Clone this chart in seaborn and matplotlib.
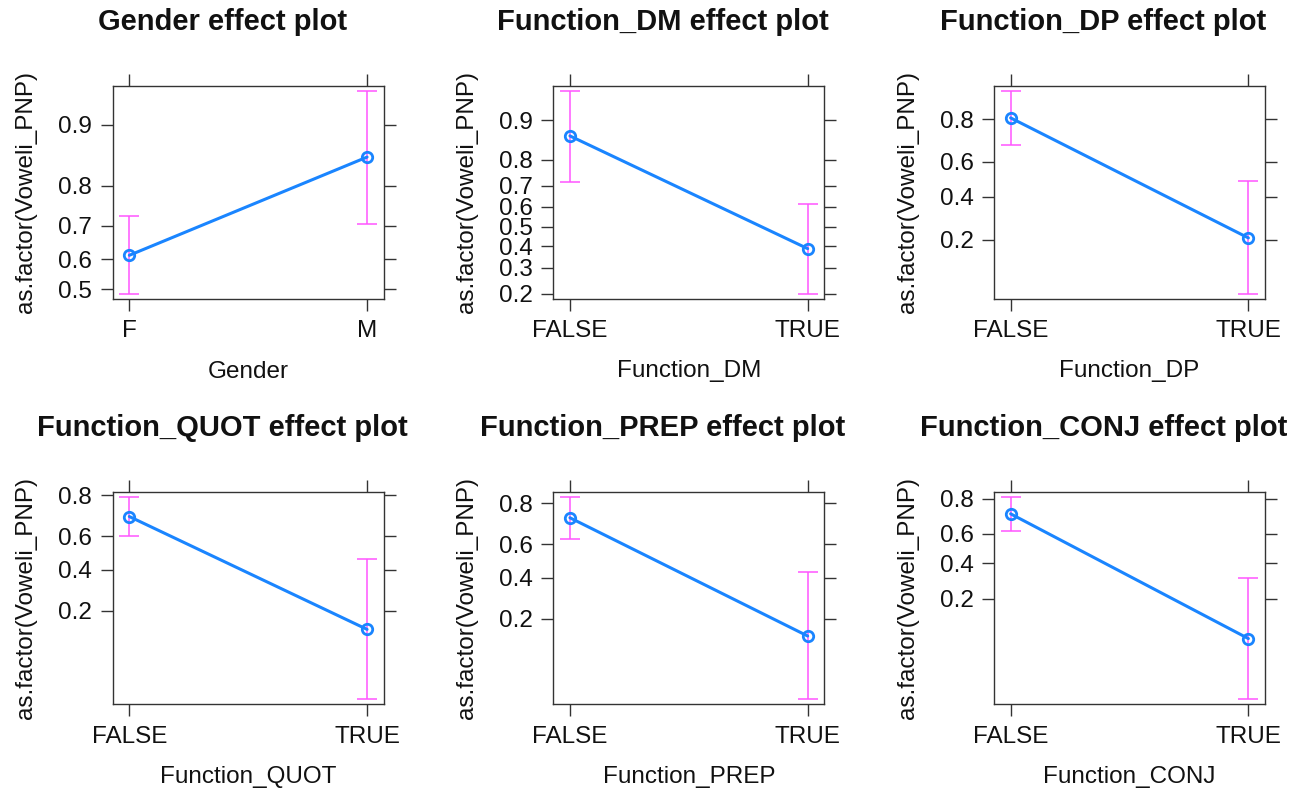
import numpy as np
import pandas as pd
import matplotlib
matplotlib.use("Agg")
import matplotlib.pyplot as plt
from matplotlib.ticker import FixedLocator, NullLocator
import seaborn as sns

sns.set_style("ticks")
plt.rcParams["font.family"] = ["Liberation Sans", "DejaVu Sans"]

# ---- data ----
titles = ["Gender effect plot", "Function_DM effect plot", "Function_DP effect plot",
          "Function_QUOT effect plot", "Function_PREP effect plot", "Function_CONJ effect plot"]
xlabels = ["Gender", "Function_DM", "Function_DP", "Function_QUOT", "Function_PREP", "Function_CONJ"]
levels = [["F", "M"], ["FALSE", "TRUE"], ["FALSE", "TRUE"],
          ["FALSE", "TRUE"], ["FALSE", "TRUE"], ["FALSE", "TRUE"]]

fit_gender = [0.612, 0.854]
lo_gender = [0.486, 0.706]
hi_gender = [0.727, 0.934]

fit_dm = [0.867, 0.388]
lo_dm = [0.717, 0.200]
hi_dm = [0.943, 0.615]

fit_dp = [0.805, 0.206]
lo_dp = [0.687, 0.067]
hi_dp = [0.885, 0.488]

fit_quot = [0.706, 0.138]
lo_quot = [0.601, 0.029]
hi_quot = [0.795, 0.464]

fit_prep = [0.738, 0.142]
lo_prep = [0.629, 0.035]
hi_prep = [0.824, 0.434]

fit_conj = [0.724, 0.076]
lo_conj = [0.618, 0.015]
hi_conj = [0.809, 0.308]

yticks_gender = [0.5, 0.6, 0.7, 0.8, 0.9]
yticks_dm = [0.2, 0.3, 0.4, 0.5, 0.6, 0.7, 0.8, 0.9]
yticks_other = [0.2, 0.4, 0.6, 0.8]

fits = [fit_gender, fit_dm, fit_dp, fit_quot, fit_prep, fit_conj]
lows = [lo_gender, lo_dm, lo_dp, lo_quot, lo_prep, lo_conj]
highs = [hi_gender, hi_dm, hi_dp, hi_quot, hi_prep, hi_conj]
yticks = [yticks_gender, yticks_dm, yticks_other, yticks_other, yticks_other, yticks_other]

ylabel = "as.factor(Voweli_PNP)"
LINE = "#1a85ff"
CI = "#ff55ff"
FRAME = "#333333"
TXT = "#111111"

W, H = 1303, 791
fig = plt.figure(figsize=(W / 100, H / 100), dpi=100)

lefts = [112.7, 553.3, 994.0]
tops = [86.0, 491.7]
aw, ah = 271.0, 212.5

def logit(p):
    p = np.asarray(p, dtype=float)
    return np.log(p / (1 - p))

def expit(z):
    return 1 / (1 + np.exp(-z))

for i in range(6):
    r, c = divmod(i, 3)
    l = lefts[c] / W
    b = 1 - (tops[r] + ah) / H
    ax = fig.add_axes([l, b, aw / W, ah / H])

    df = pd.DataFrame({"level": levels[i], "fit": fits[i],
                       "lower": lows[i], "upper": highs[i]})
    fit = np.array(fits[i]); lo = np.array(lows[i]); hi = np.array(highs[i])
    xs = np.arange(len(levels[i]))

    ax.errorbar(xs, fit, yerr=[fit - lo, hi - fit], fmt="none", ecolor=CI,
                elinewidth=1.1, capsize=7.5, capthick=1.1, zorder=2)
    sns.pointplot(data=df, x="level", y="fit", ax=ax, color=LINE, markers="o",
                  linestyles="-", errorbar=None, markersize=7.5, linewidth=2.2,
                  markerfacecolor="none", markeredgewidth=2.0, zorder=3)

    ax.set_yscale("logit")
    zlo, zhi = logit(lo.min()), logit(hi.max())
    pad = 0.024 * (zhi - zlo)
    ax.set_ylim(expit(zlo - pad), expit(zhi + pad))
    ax.set_xlim(-0.07, 1.07)

    ax.yaxis.set_major_locator(FixedLocator(yticks[i]))
    ax.yaxis.set_minor_locator(NullLocator())
    ax.set_yticklabels([f"{t:g}" for t in yticks[i]])
    ax.set_xticks(xs)
    ax.set_xticklabels(levels[i])

    ax.tick_params(axis="both", which="major", direction="out", length=8.8,
                   width=1.0, color=FRAME, labelsize=17.5, labelcolor=TXT,
                   top=True, right=True, labeltop=False, labelright=False, pad=7)
    ax.tick_params(axis="y", pad=6)
    for sp in ax.spines.values():
        sp.set_visible(True)
        sp.set_color(FRAME)
        sp.set_linewidth(1.0)

    ax.set_xlabel(xlabels[i], fontsize=17.5, labelpad=13, color=TXT)
    ax.set_ylabel(ylabel, fontsize=17.5, labelpad=15, color=TXT)
    ax.set_title(titles[i], x=0.404, fontsize=21, fontweight="bold", pad=40,
                 color=TXT)

fig.savefig("out.png", dpi=100)
